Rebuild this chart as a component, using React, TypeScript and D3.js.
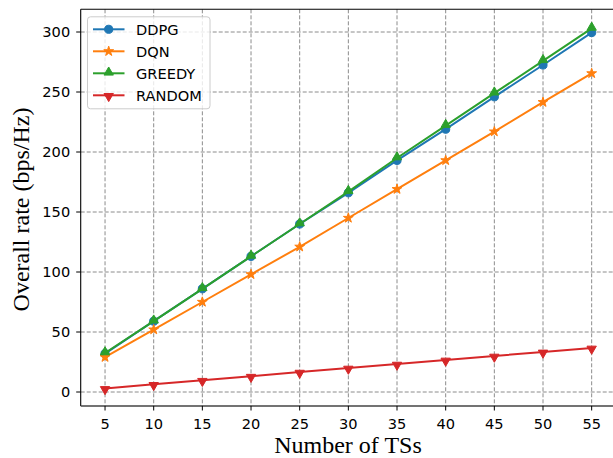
import React from "react";
import * as d3 from "d3";

const tsCounts = [5, 10, 15, 20, 25, 30, 35, 40, 45, 50, 55];
const ddpg = [32, 59, 86, 113, 140, 166, 193, 219, 246, 272.5, 299.5];
const dqn = [29, 52, 75, 98, 121, 145, 169, 193, 217, 241.5, 265.5];
const greedy = [32.5, 59, 86, 113, 140, 167, 195, 222, 249, 276, 303];
const random = [3, 6.4, 9.8, 13.2, 16.6, 20, 23.3, 26.7, 30, 33.4, 36.7];
const yTicks = [0, 50, 100, 150, 200, 250, 300];
const xTicks = [5, 10, 15, 20, 25, 30, 35, 40, 45, 50, 55];

type Series = { name: string; values: number[]; color: string; marker: string };
const seriesList: Series[] = [
  { name: "DDPG", values: ddpg, color: "#1f77b4", marker: "circle" },
  { name: "DQN", values: dqn, color: "#ff7f0e", marker: "star" },
  { name: "GREEDY", values: greedy, color: "#2ca02c", marker: "triangleUp" },
  { name: "RANDOM", values: random, color: "#d62728", marker: "triangleDown" },
];

const W = 613;
const H = 458;
const plot = { left: 80.7, top: 9.3, bottom: 406, right: 616 };

const x = d3.scaleLinear().domain([2.5, 57.5]).range([plot.left, plot.right]);
const y = d3.scaleLinear().domain([0, 300]).range([392, 32]);

function markerPath(kind: string): { d: string; rotate: number } {
  if (kind === "circle") return { d: d3.symbol(d3.symbolCircle, 52)(), rotate: 0 };
  if (kind === "star") return { d: d3.symbol(d3.symbolStar, 30)(), rotate: 0 };
  if (kind === "triangleUp") return { d: d3.symbol(d3.symbolTriangle, 38)(), rotate: 0 };
  return { d: d3.symbol(d3.symbolTriangle, 38)(), rotate: 180 };
}

function Marker({ kind, cx, cy, color }: { kind: string; cx: number; cy: number; color: string }) {
  const m = markerPath(kind);
  const dy = kind === "triangleUp" ? -0.9 : kind === "triangleDown" ? 0.9 : 0;
  return (
    <path
      d={m.d}
      transform={`translate(${cx},${cy + dy}) rotate(${m.rotate})`}
      fill={color}
      stroke={color}
      strokeWidth={1}
    />
  );
}

export default function App() {
  const line = d3
    .line<number>()
    .x((_, i) => x(tsCounts[i]))
    .y((v) => y(v));

  const tickFont = "'DejaVu Sans', sans-serif";
  const labelFont = "'Liberation Serif', 'DejaVu Serif', serif";
  const tickSize = 14.6;

  return (
    <svg
      width={W}
      height={H}
      style={{ position: "absolute", left: 0, top: 0, background: "#fff" }}
    >
      <defs>
        <clipPath id="plot-area">
          <rect x={plot.left} y={plot.top} width={plot.right - plot.left} height={plot.bottom - plot.top} />
        </clipPath>
      </defs>
      <rect x={0} y={0} width={W} height={H} fill="#fff" />

      {/* grid */}
      <g stroke="#8c8c8c" strokeWidth={1} strokeDasharray="4,2">
        {yTicks.map((t) => (
          <line key={`gy${t}`} x1={plot.left} x2={plot.right} y1={y(t)} y2={y(t)} />
        ))}
        {xTicks.map((t) => (
          <line key={`gx${t}`} x1={x(t)} x2={x(t)} y1={plot.top} y2={plot.bottom} />
        ))}
      </g>

      {/* series */}
      <g clipPath="url(#plot-area)">
        {seriesList.map((s) => (
          <g key={s.name}>
            <path d={line(s.values) ?? ""} fill="none" stroke={s.color} strokeWidth={2} />
            {s.values.map((v, i) => (
              <Marker key={i} kind={s.marker} cx={x(tsCounts[i])} cy={y(v)} color={s.color} />
            ))}
          </g>
        ))}
      </g>

      {/* spines */}
      <g stroke="#000" strokeWidth={1.1} fill="none">
        <line x1={plot.left} x2={plot.left} y1={plot.top} y2={plot.bottom} />
        <line x1={plot.left} x2={plot.right} y1={plot.top} y2={plot.top} />
      </g>
      <line x1={plot.left} x2={plot.right} y1={plot.bottom} y2={plot.bottom} stroke="#444" strokeWidth={1.6} />

      {/* y axis */}
      <g fontFamily={tickFont} fontSize={tickSize} fill="#000">
        {yTicks.map((t) => (
          <g key={`yt${t}`}>
            <line x1={plot.left - 4.5} x2={plot.left} y1={y(t)} y2={y(t)} stroke="#000" strokeWidth={1} />
            <text x={plot.left - 10.5} y={y(t)} dy="0.36em" textAnchor="end">
              {t}
            </text>
          </g>
        ))}
      </g>

      {/* x axis */}
      <g fontFamily={tickFont} fontSize={tickSize} fill="#000">
        {xTicks.map((t) => (
          <g key={`xt${t}`}>
            <line x1={x(t)} x2={x(t)} y1={plot.bottom} y2={plot.bottom + 4.5} stroke="#000" strokeWidth={1} />
            <text x={x(t)} y={428.5} textAnchor="middle">
              {t}
            </text>
          </g>
        ))}
      </g>

      <text
        x={348}
        y={453.3}
        textAnchor="middle"
        fontFamily={labelFont}
        fontSize={24}
        fill="#000"
      >
        Number of TSs
      </text>
      <text
        transform="translate(29,209.5) rotate(-90)"
        textAnchor="middle"
        fontFamily={labelFont}
        fontSize={24}
        fill="#000"
      >
        Overall rate (bps/Hz)
      </text>

      {/* legend */}
      <g>
        <rect
          x={87.5}
          y={16.8}
          width={122.5}
          height={92}
          rx={3}
          fill="#fff"
          fillOpacity={0.8}
          stroke="#cccccc"
          strokeWidth={1}
        />
        {seriesList.map((s, i) => {
          const ly = 29.3 + i * 22;
          return (
            <g key={`lg${s.name}`}>
              <line x1={93} x2={124.5} y1={ly} y2={ly} stroke={s.color} strokeWidth={2} />
              <Marker kind={s.marker} cx={108.7} cy={ly} color={s.color} />
              <text
                x={136}
                y={ly}
                dy="0.36em"
                fontFamily={tickFont}
                fontSize={tickSize}
                fill="#000"
              >
                {s.name}
              </text>
            </g>
          );
        })}
      </g>
    </svg>
  );
}
